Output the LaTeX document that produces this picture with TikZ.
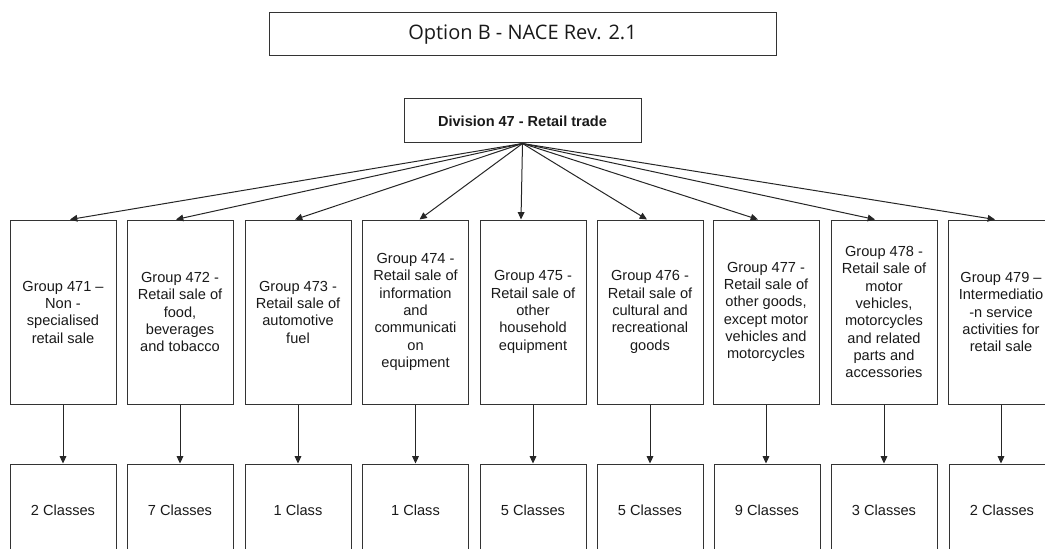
\documentclass[tikz,border=0pt]{standalone}
\usepackage{fontspec}
\setmainfont{Liberation Sans}
\newfontfamily\titlefont{Open Sans}
\usetikzlibrary{arrows.meta,calc}
\begin{document}
\begin{tikzpicture}[x=0.75pt,y=-0.75pt,
  box/.style={draw=black!80, line width=0.75pt, inner sep=0pt, align=center, text=black!90},
  titlebox/.style={box, minimum width=380.25pt, minimum height=32.25pt, font=\titlefont\fontsize{15}{18}\selectfont},
  divbox/.style={box, minimum width=177.75pt, minimum height=33pt, font=\fontsize{10.9}{13}\selectfont\bfseries},
  groupbox/.style={box, minimum width=79.5pt, minimum height=138pt, font=\fontsize{10.95}{13}\selectfont},
  classbox/.style={box, minimum width=79.5pt, minimum height=69pt, font=\fontsize{10.95}{13}\selectfont},
  link/.style={draw=black!85, line width=0.75pt, -{Triangle[length=5.5pt,width=5pt]}}]
\useasboundingbox (0,0) rectangle (1045,549);
\clip (0,0) rectangle (1045,549);

% headings
\node[titlebox] (title) at (522.5,34.5) {Option B - NACE Rev. 2.1};
\node[divbox] (div) at (522.5,121) {Division 47 - Retail trade};

% groups
\node[groupbox] (g1) at (63,312)  {Group 471 --\\Non -\\specialised\\retail sale};
\node[groupbox] (g2) at (180,312) {Group 472 -\\Retail sale of\\food,\\beverages\\and tobacco};
\node[groupbox] (g3) at (298,312) {Group 473 -\\Retail sale of\\automotive\\fuel};
\node[groupbox] (g4) at (415.5,312) {Group 474 -\\Retail sale of\\information\\and\\communicati\\on\\equipment};
\node[groupbox] (g5) at (533,312) {Group 475 -\\Retail sale of\\other\\household\\equipment};
\node[groupbox] (g6) at (650,312) {Group 476 -\\Retail sale of\\cultural and\\recreational\\goods};
\node[groupbox] (g7) at (766,312) {Group 477 -\\Retail sale of\\other goods,\\except motor\\vehicles and\\motorcycles};
\node[groupbox] (g8) at (884,312) {Group 478 -\\Retail sale of\\motor\\vehicles,\\motorcycles\\and related\\parts and\\accessories};
\node[groupbox] (g9) at (1001,312) {Group 479 --\\Intermediatio\\-n service\\activities for\\retail sale};

% classes
\node[classbox] (c1) at (63,510)  {2 Classes};
\node[classbox] (c2) at (180,510) {7 Classes};
\node[classbox] (c3) at (298,510) {1 Class};
\node[classbox] (c4) at (415.5,510) {1 Class};
\node[classbox] (c5) at (533,510) {5 Classes};
\node[classbox] (c6) at (650,510) {5 Classes};
\node[classbox] (c7) at (767,510) {9 Classes};
\node[classbox] (c8) at (884,510) {3 Classes};
\node[classbox] (c9) at (1002,510) {2 Classes};

% division to groups
\draw[link] (div.south) -- ($(g1.north)+(7,0)$);
\draw[link] (div.south) -- ($(g2.north)+(-4,0)$);
\draw[link] (div.south) -- ($(g3.north)+(-3,0)$);
\draw[link] (div.south) -- ($(g4.north)+(4,0)$);
\draw[link] (div.south) -- ($(g5.north)+(-12,0)$);
\draw[link] (div.south) -- ($(g6.north)+(-3,0)$);
\draw[link] (div.south) -- ($(g7.north)+(-8,0)$);
\draw[link] (div.south) -- ($(g8.north)+(-9,0)$);
\draw[link] (div.south) -- ($(g9.north)+(-6,0)$);

% groups to classes
\foreach \i in {1,...,9} {
  \draw[link] (g\i.south) -- (g\i.south |- c\i.north);
}
\end{tikzpicture}
\end{document}
